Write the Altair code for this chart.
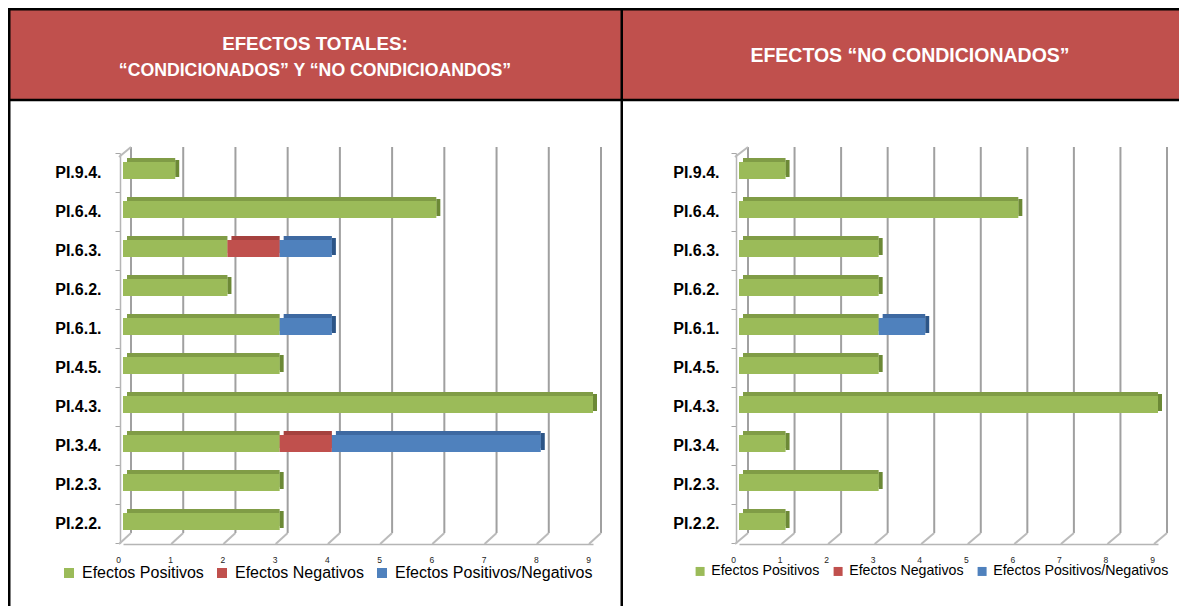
import altair as alt
import pandas as pd

categories = ["PI.9.4.", "PI.6.4.", "PI.6.3.", "PI.6.2.", "PI.6.1.",
              "PI.4.5.", "PI.4.3.", "PI.3.4.", "PI.2.3.", "PI.2.2."]
series = ["Efectos Positivos", "Efectos Negativos", "Efectos Positivos/Negativos"]
colors = ["#9BBB59", "#C0504D", "#4F81BD"]
top_colors = ["#809C46", "#A5413E", "#3E69A1"]
cap_colors = ["#6C8936", "#8C3431", "#2C5587"]
tick_values = [0, 1, 2, 3, 4, 5, 6, 7, 8, 9]

# Panel 1: efectos totales
tot_pos = [1, 6, 2, 2, 3, 3, 9, 3, 3, 3]
tot_neg = [0, 0, 1, 0, 0, 0, 0, 1, 0, 0]
tot_pn = [0, 0, 1, 0, 1, 0, 0, 4, 0, 0]
# Panel 2: efectos no condicionados
nc_pos = [1, 6, 3, 3, 3, 3, 9, 1, 3, 1]
nc_neg = [0, 0, 0, 0, 0, 0, 0, 0, 0, 0]
nc_pn = [0, 0, 0, 0, 1, 0, 0, 0, 0, 0]

title_left = ["EFECTOS TOTALES:", "\u201cCONDICIONADOS\u201d Y \u201cNO CONDICIOANDOS\u201d"]
title_right = ["EFECTOS \u201cNO CONDICIONADOS\u201d"]

HEADER_RED = "#C0504D"
FONT = "Liberation Sans"
W = 1171
H = 598
SPLIT = 615


def build_df(pos, neg, pn):
    rows = []
    for i, c in enumerate(categories):
        start = 0
        seg = []
        for k, vals in enumerate([pos, neg, pn]):
            v = vals[i]
            if v > 0:
                seg.append(dict(cat=c, series=series[k], start=start, end=start + v,
                                top=top_colors[k], cap=cap_colors[k], last=False))
                start += v
        if seg:
            seg[-1]["last"] = True
        rows.extend(seg)
    return pd.DataFrame(rows)


def panel(pos, neg, pn, titles, title_ys, title_fs, x_left, x_right, xr, lab_pad, goff, loff,
          leg_x, leg_y, leg_fs, sym, lab_off, col_pad, head_cx):
    df = build_df(pos, neg, pn)
    ticks_df = pd.DataFrame({"tick": tick_values})
    one = alt.Data(values=[{}])

    xscale = alt.Scale(domain=[0, 9], range=xr, nice=False, zero=False)
    yscale = alt.Scale(domain=categories, range=[145, 535], paddingInner=0, paddingOuter=0)
    xaxis = alt.Axis(title=None, orient="bottom", offset=-62, values=tick_values, format="d",
                     labelFont=FONT, labelFontSize=8.5, labelColor="#222222", labelPadding=11,
                     ticks=False, tickSize=0, domainColor="#B5B5B5", domainWidth=1.5,
                     grid=False, labelOffset=loff, labelFlush=False)
    yaxis = alt.Axis(title=None, orient="left", offset=-(xr[0] - 3), labelFont=FONT,
                     labelFontWeight="bold", labelFontSize=16, labelColor="black",
                     labelPadding=lab_pad, tickSize=5, tickColor="#A6A6A6", tickBand="extent",
                     domainColor="#B5B5B5", domainWidth=1.5, grid=False, labelLimit=200)
    ycat = alt.Y("cat:N", sort=categories, scale=yscale, axis=yaxis)

    layers = []
    # header background and titles
    layers.append(alt.Chart(one).mark_rect(color=HEADER_RED).encode(
        x=alt.value(x_left), x2=alt.value(x_right), y=alt.value(1), y2=alt.value(92)))
    for t, ty, fs in zip(titles, title_ys, title_fs):
        layers.append(alt.Chart(one).mark_text(
            text=t, font=FONT, fontSize=fs, fontWeight="bold", color="white",
            align="center", baseline="middle").encode(x=alt.value(head_cx), y=alt.value(ty)))

    # 3D-like grid lines (back wall + floor feet)
    layers.append(alt.Chart(ticks_df).mark_rule(color="#A0A0A0", strokeWidth=2, xOffset=goff).encode(
        x=alt.X("tick:Q", scale=xscale, axis=xaxis), y=alt.value(139), y2=alt.value(525)))
    layers.append(alt.Chart(ticks_df).mark_rule(color="#BBBBBB", strokeWidth=2, xOffset=goff,
                                                x2Offset=-4).encode(
        x=alt.X("tick:Q", scale=xscale, axis=xaxis), x2=alt.X2("tick:Q"),
        y=alt.value(525), y2=alt.value(536)))
    layers.append(alt.Chart(ticks_df[ticks_df.tick == 0]).mark_rule(
        color="#BBBBBB", strokeWidth=2, xOffset=-4, x2Offset=goff).encode(
        x=alt.X("tick:Q", scale=xscale, axis=xaxis), x2=alt.X2("tick:Q"),
        y=alt.value(149), y2=alt.value(139)))

    # bar depth: top face
    layers.append(alt.Chart(df).mark_bar(height=17, xOffset=4, yOffset=-6).encode(
        x=alt.X("start:Q", scale=xscale, axis=xaxis), x2=alt.X2("end:Q"), y=ycat,
        fill=alt.Fill("top:N", scale=None, legend=None)))
    # bar depth: end cap of the last segment
    layers.append(alt.Chart(df[df["last"]]).mark_bar(height=17, x2Offset=4, yOffset=-4).encode(
        x=alt.X("end:Q", scale=xscale, axis=xaxis), x2=alt.X2("end:Q"), y=ycat,
        fill=alt.Fill("cap:N", scale=None, legend=None)))
    # bar front face
    layers.append(alt.Chart(df).mark_bar(height=17, yOffset=-2).encode(
        x=alt.X("start:Q", scale=xscale, axis=xaxis), x2=alt.X2("end:Q"), y=ycat,
        color=alt.Color("series:N", scale=alt.Scale(domain=series, range=colors),
                        legend=alt.Legend(orient="none", legendX=leg_x, legendY=leg_y,
                                          direction="horizontal", title=None,
                                          symbolType="square", symbolSize=sym,
                                          symbolStrokeWidth=0, labelFont=FONT,
                                          labelFontSize=leg_fs, labelColor="black",
                                          labelOffset=lab_off, columnPadding=col_pad,
                                          padding=0, labelLimit=400))))
    return alt.layer(*layers)


left = panel(tot_pos, tot_neg, tot_pn, title_left, [36, 63], [18.8, 17.7], 1.25, SPLIT,
             [115, 585], 14, 8, -5, 53, 557, 16, 100, 5, 10, 307)
right = panel(nc_pos, nc_neg, nc_pn, title_right, [48], [19.5], SPLIT, W,
              [SPLIT + 116, SPLIT + 535], 12, 9, -6, SPLIT + 70, 556, 14.2, 81, 4, 11,
              SPLIT + 287)

# table borders
one = alt.Data(values=[{}])
bw = 2.5
border_top = alt.Chart(one).mark_rule(color="black", strokeWidth=bw).encode(
    x=alt.value(0), x2=alt.value(W), y=alt.value(1.25))
border_head = alt.Chart(one).mark_rule(color="black", strokeWidth=bw).encode(
    x=alt.value(0), x2=alt.value(W), y=alt.value(92))
border_left = alt.Chart(one).mark_rule(color="black", strokeWidth=bw).encode(
    x=alt.value(1.25), y=alt.value(0), y2=alt.value(H))
border_mid = alt.Chart(one).mark_rule(color="black", strokeWidth=bw).encode(
    x=alt.value(SPLIT - 1.25), y=alt.value(0), y2=alt.value(H))

chart = alt.layer(left, right, border_top, border_head, border_left, border_mid).resolve_scale(
    x="independent", y="independent", color="independent").properties(
    width=W, height=H, padding=0, autosize=alt.AutoSizeParams(type="none")).configure_view(
    stroke=None)

chart.save("out.html", embed_options={"renderer": "svg", "actions": False})
